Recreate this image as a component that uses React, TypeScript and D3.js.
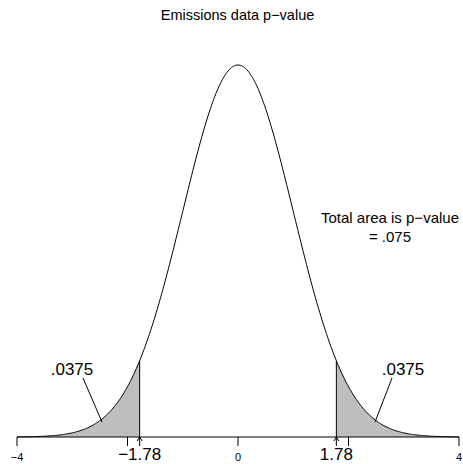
import React from "react";
import * as d3 from "d3";

// chart values
const title = "Emissions data p\u2212value";
const majorTicks = [-4, 0, 4];
const minorTicks = [-2, 2];
const criticalValues = [-1.78, 1.78];
const criticalLabels = ["\u22121.78", "1.78"];
const tailLabels = [".0375", ".0375"];
const noteLines = ["Total area is p\u2212value", "= .075"];
const xDomain = [-4, 4];

const W = 463;
const H = 464;

// standard normal density
const dnorm = (x: number) => Math.exp(-(x * x) / 2) / Math.sqrt(2 * Math.PI);

const App = () => {
  const x = d3.scaleLinear().domain(xDomain).range([17, 459]);
  const y = d3.scaleLinear().domain([0, dnorm(0)]).range([437, 65]);

  const xs = d3.range(xDomain[0], xDomain[1] + 0.0001, 0.02);
  const line = d3
    .line<number>()
    .x((d) => x(d))
    .y((d) => y(dnorm(d)));

  const area = d3
    .area<number>()
    .x((d) => x(d))
    .y0(y(0))
    .y1((d) => y(dnorm(d)));

  const leftTail = xs.filter((d) => d <= criticalValues[0]).concat([criticalValues[0]]);
  const rightTail = [criticalValues[1]].concat(xs.filter((d) => d >= criticalValues[1]));

  const font = "Liberation Sans, Arial, Helvetica, sans-serif";

  return (
    <svg width={W} height={H} style={{ position: "absolute", left: 0, top: 0 }} fontFamily={font}>
      <rect width={W} height={H} fill="white" />
      <text x={237.5} y={20} textAnchor="middle" fontSize={14.5}>
        {title}
      </text>

      <path d={area(leftTail) || ""} fill="#bebebe" stroke="none" />
      <path d={area(rightTail) || ""} fill="#bebebe" stroke="none" />

      {criticalValues.map((c, i) => (
        <line key={"v" + i} x1={x(c)} x2={x(c)} y1={y(0)} y2={y(dnorm(c))} stroke="black" />
      ))}

      <path d={line(xs) || ""} fill="none" stroke="black" strokeWidth={1} />

      {/* axis */}
      <line x1={x(xDomain[0])} x2={x(xDomain[1])} y1={y(0)} y2={y(0)} stroke="black" />
      {majorTicks.concat(minorTicks).map((t) => (
        <line key={"t" + t} x1={x(t)} x2={x(t)} y1={y(0)} y2={y(0) + 9} stroke="black" />
      ))}
      {majorTicks.map((t) => (
        <text key={"l" + t} x={x(t)} y={461} textAnchor="middle" fontSize={11}>
          {t < 0 ? "\u2212" + Math.abs(t) : String(t)}
        </text>
      ))}

      {criticalValues.map((c, i) => (
        <g key={"a" + i}>
          <line x1={x(c)} x2={x(c)} y1={y(0) + 9} y2={y(0)} stroke="black" />
          <path
            d={`M${x(c) - 2.5},${y(0) + 4} L${x(c)},${y(0)} L${x(c) + 2.5},${y(0) + 4}`}
            fill="none"
            stroke="black"
          />
          <text x={x(c)} y={460} textAnchor="middle" fontSize={17}>
            {criticalLabels[i]}
          </text>
        </g>
      ))}

      {/* tail labels */}
      <text x={72} y={375} textAnchor="middle" fontSize={17}>
        {tailLabels[0]}
      </text>
      <line x1={83} y1={378} x2={102} y2={422} stroke="black" />
      <text x={403} y={375} textAnchor="middle" fontSize={17}>
        {tailLabels[1]}
      </text>
      <line x1={392} y1={378} x2={375} y2={422} stroke="black" />

      {noteLines.map((s, i) => (
        <text key={"n" + i} x={390} y={223 + i * 19} textAnchor="middle" fontSize={15}>
          {s}
        </text>
      ))}
    </svg>
  );
};

export default App;
